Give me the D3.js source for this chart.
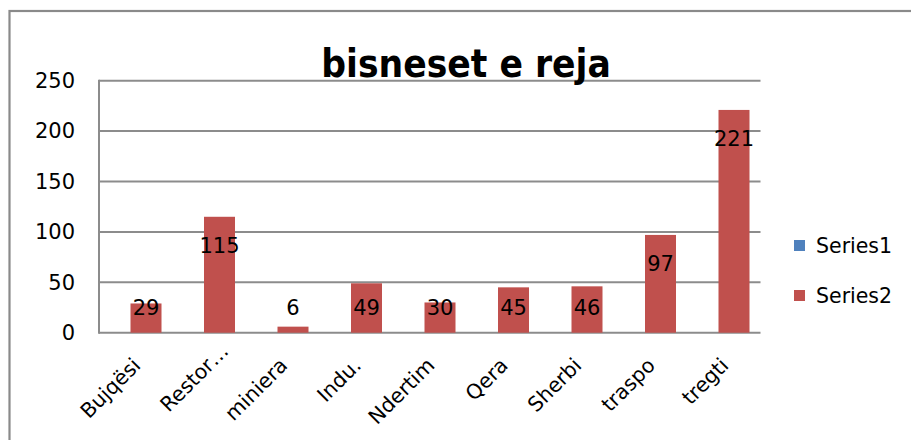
<!DOCTYPE html>
<html>
<head>
<meta charset="utf-8">
<script src="https://cdn.jsdelivr.net/npm/d3@7"></script>
<style>
  body { margin: 0; background: #fff; }
  svg { display: block; }
  text { font-family: "DejaVu Sans", "Liberation Sans", sans-serif; fill: #000; }
</style>
</head>
<body>
<svg id="chart" width="911" height="440"></svg>
<script>
const title = "bisneset e reja";
const categories = ["Bujqësi", "Restor…", "miniera", "Indu.", "Ndertim", "Qera", "Sherbi", "traspo", "tregti"];
const seriesNames = ["Series1", "Series2"];
const series1 = [null, null, null, null, null, null, null, null, null];
const series2 = [29, 115, 6, 49, 30, 45, 46, 97, 221];
const yTicks = [0, 50, 100, 150, 200, 250];
const colors = ["#4F81BD", "#C0504D"];

const svg = d3.select("#chart");
const pL = 99, pR = 760.5, pT = 80.7, pB = 332.7;

// outer frame
svg.append("rect")
  .attr("x", 9.5).attr("y", 11).attr("width", 1000).attr("height", 500)
  .attr("fill", "none").attr("stroke", "#8a8a8a").attr("stroke-width", 2.2);

const x0 = d3.scaleBand().domain(categories).range([pL, pR]).padding(0);
const x1 = d3.scaleBand().domain(seriesNames).range([0.5, 62.5]).padding(0);
const y = d3.scaleLinear().domain([0, 250]).range([pB, pT]);

// gridlines
svg.append("g").selectAll("line").data(yTicks).join("line")
  .attr("x1", pL).attr("x2", pR)
  .attr("y1", d => y(d)).attr("y2", d => y(d))
  .attr("stroke", "#8c8c8c").attr("stroke-width", 2);

// y axis line
svg.append("line").attr("x1", pL).attr("x2", pL).attr("y1", pT - 1).attr("y2", pB + 1)
  .attr("stroke", "#8c8c8c").attr("stroke-width", 2);

// y tick labels
const yAxis = d3.axisLeft(y).tickValues(yTicks).tickSize(0).tickPadding(24);
const yg = svg.append("g").attr("transform", `translate(${pL},0)`).call(yAxis);
yg.select(".domain").remove();
yg.selectAll("text").attr("font-size", 21).attr("font-family", '"DejaVu Sans", sans-serif').attr("fill", "#000");

// bars
const data = categories.map((c, i) => ({ c, vals: [series1[i], series2[i]] }));
const groups = svg.append("g").selectAll("g").data(data).join("g")
  .attr("transform", d => `translate(${x0(d.c)},0)`);
groups.selectAll("rect").data(d => d.vals.map((v, j) => ({ v, s: seriesNames[j], j })).filter(e => e.v != null))
  .join("rect")
  .attr("x", e => x1(e.s)).attr("width", x1.bandwidth())
  .attr("y", e => y(e.v)).attr("height", e => y(0) - y(e.v))
  .attr("fill", e => colors[e.j]);

// data labels for Series2
groups.each(function(d) {
  const v = d.vals[1];
  if (v == null) return;
  const cy = Math.min(y(v) + 29, y(0) - 25);
  d3.select(this).append("text")
    .attr("x", x1("Series2") + x1.bandwidth() / 2)
    .attr("y", cy)
    .attr("dy", "0.36em")
    .attr("text-anchor", "middle")
    .attr("font-size", 21)
    .text(v);
});

// x labels (truncation ellipsis overflows past the anchor point)
const xg = svg.append("g");
xg.selectAll("text").data(categories).join("text")
  .attr("font-size", 20.5)
  .attr("text-anchor", "start")
  .text(c => c)
  .each(function(c) {
    const node = this;
    const full = node.getComputedTextLength();
    let core = full;
    if (c.endsWith("…")) {
      node.textContent = c.slice(0, -1);
      core = node.getComputedTextLength();
      node.textContent = c;
    }
    d3.select(node)
      .attr("x", -core)
      .attr("transform", `translate(${x0(c) + x0.bandwidth() / 2 + 6},${pB + 34}) rotate(-45)`);
  });

// title
svg.append("text")
  .attr("x", 466).attr("y", 77)
  .attr("text-anchor", "middle")
  .attr("font-size", 38.5).attr("font-weight", "bold")
  .style("font-family", '"DejaVu Sans Condensed", "DejaVu Sans", sans-serif')
  .text(title);

// legend
const lg = svg.append("g").selectAll("g").data(seriesNames).join("g")
  .attr("transform", (d, i) => `translate(794,${246 + i * 50})`);
lg.append("rect").attr("x", 0).attr("y", -6).attr("width", 11).attr("height", 11)
  .attr("fill", (d, i) => colors[i]);
lg.append("text").attr("x", 22).attr("y", 0).attr("dy", "0.36em").attr("font-size", 20.5).text(d => d);
</script>
</body>
</html>
